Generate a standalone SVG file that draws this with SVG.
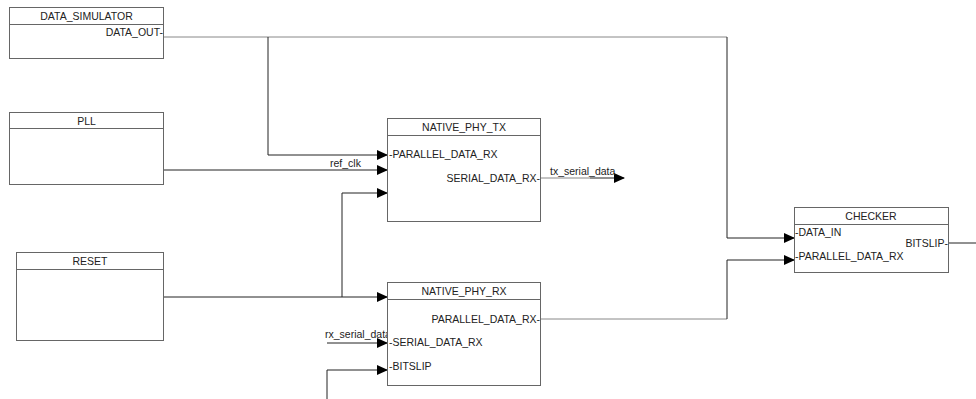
<svg xmlns="http://www.w3.org/2000/svg" width="976" height="399" viewBox="0 0 976 399">
<defs>
<style>
.box{fill:#fff;stroke:#666;stroke-width:1}
.hd{stroke:#666;stroke-width:1}
text{font-family:"Liberation Sans",Arial,sans-serif;font-size:10.5px;fill:#222}
.t{text-anchor:middle}
.r{text-anchor:end}
.w{fill:none;stroke:#222;stroke-width:1}
.g{fill:none;stroke:#888;stroke-width:1}
</style>
<marker id="ah" markerWidth="11" markerHeight="11" refX="10" refY="5" orient="auto" markerUnits="userSpaceOnUse">
<path d="M0,0 L11,5 L0,10 z" fill="#000"/>
</marker>
</defs>
<rect width="976" height="399" fill="#fff"/>
<g id="connectors">
<path class="g" d="M164,37 H727"/>
<path class="w" d="M727,37 V238 H794" marker-end="url(#ah)"/>
<path class="w" d="M268,37 V155 H387" marker-end="url(#ah)"/>
<path class="w" d="M164,170 H387" marker-end="url(#ah)"/>
<path class="w" d="M164,297 H387" marker-end="url(#ah)"/>
<path class="w" d="M342,297 V193 H387" marker-end="url(#ah)"/>
<path class="g" d="M541,178 H590"/>
<path class="w" d="M590,178 H624" marker-end="url(#ah)"/>
<path class="w" d="M327,343 H387" marker-end="url(#ah)"/>
<path class="w" d="M327,399 V370 H387" marker-end="url(#ah)"/>
<path class="g" d="M541,319 H727"/>
<path class="w" d="M727,319 V260 H794" marker-end="url(#ah)"/>
<path class="w" d="M948,243 H976"/>
<text x="330" y="167">ref_clk</text>
<text x="550" y="175">tx_serial_data</text>
<text x="325" y="338">rx_serial_data</text>
</g>
<g id="data_simulator">
<rect class="box" x="9.5" y="7.5" width="154" height="51"/>
<line class="hd" x1="9.5" y1="24.5" x2="163.5" y2="24.5"/>
<text class="t" x="86.5" y="20">DATA_SIMULATOR</text>
<text class="r" x="163" y="36">DATA_OUT-</text>
</g>
<g id="pll">
<rect class="box" x="9.5" y="112.5" width="154" height="72"/>
<line class="hd" x1="9.5" y1="128.5" x2="163.5" y2="128.5"/>
<text class="t" x="86.5" y="125">PLL</text>
</g>
<g id="reset">
<rect class="box" x="16.5" y="252.5" width="147" height="88"/>
<line class="hd" x1="16.5" y1="269.5" x2="163.5" y2="269.5"/>
<text class="t" x="90" y="265">RESET</text>
</g>
<g id="native_phy_tx">
<rect class="box" x="387.5" y="118.5" width="153" height="103"/>
<line class="hd" x1="387.5" y1="135.5" x2="540.5" y2="135.5"/>
<text class="t" x="464" y="131">NATIVE_PHY_TX</text>
<text x="389" y="158">-PARALLEL_DATA_RX</text>
<text class="r" x="540" y="182">SERIAL_DATA_RX-</text>
</g>
<g id="native_phy_rx">
<rect class="box" x="387.5" y="282.5" width="153" height="103"/>
<line class="hd" x1="387.5" y1="299.5" x2="540.5" y2="299.5"/>
<text class="t" x="464" y="295">NATIVE_PHY_RX</text>
<text class="r" x="540" y="323">PARALLEL_DATA_RX-</text>
<text x="389" y="346">-SERIAL_DATA_RX</text>
<text x="389" y="370">-BITSLIP</text>
</g>
<g id="checker">
<rect class="box" x="794.5" y="207.5" width="154" height="65"/>
<line class="hd" x1="794.5" y1="224.5" x2="948.5" y2="224.5"/>
<text class="t" x="871" y="220">CHECKER</text>
<text x="795" y="236">-DATA_IN</text>
<text class="r" x="948" y="247">BITSLIP-</text>
<text x="795" y="260">-PARALLEL_DATA_RX</text>
</g>
</svg>
